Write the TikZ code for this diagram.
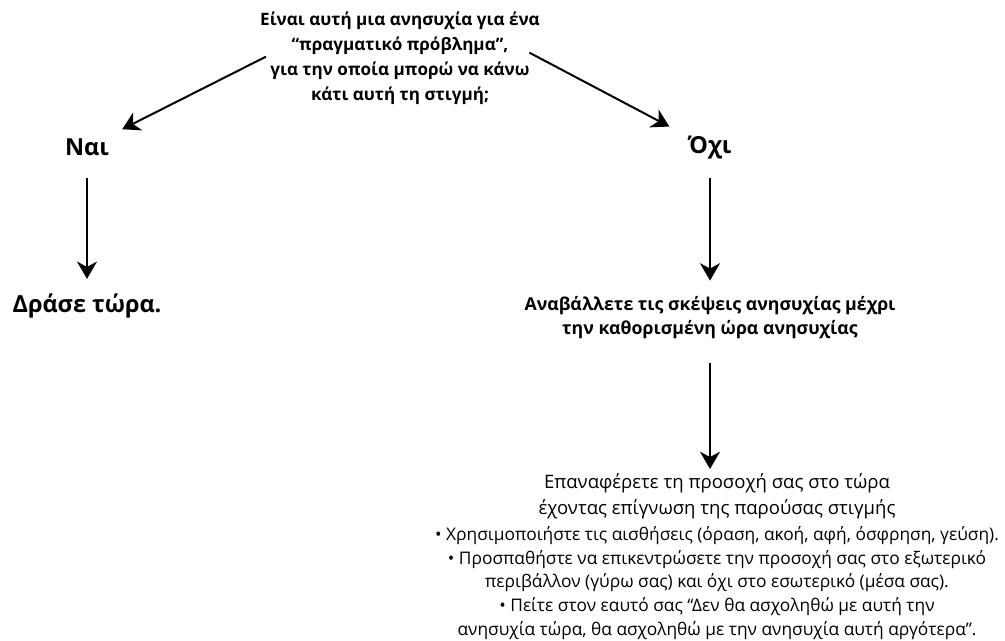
\documentclass[tikz,border=0pt]{standalone}
\usepackage{fontspec}
\setmainfont{Open Sans}
\usetikzlibrary{arrows.meta}
\tikzstyle{question} = [font=\bfseries\fontsize{12.8}{18.75}\selectfont, align=center, inner sep=0pt]
\tikzstyle{answer} = [font=\bfseries\fontsize{17.6}{21}\selectfont, inner sep=0pt]
\tikzstyle{advice} = [font=\bfseries\fontsize{13.3}{18}\selectfont, align=center, inner sep=0pt]
\tikzstyle{refocus} = [font=\fontsize{13.9}{19.5}\selectfont, align=center, inner sep=0pt]
\tikzstyle{tips} = [font=\fontsize{13}{17.8}\selectfont, align=center, inner sep=0pt]
\tikzstyle{flow} = [draw, line width=1.5pt, ->]

\begin{document}
\begin{tikzpicture}[x=0.75pt, y=-0.75pt, >={Stealth[length=13pt,width=15pt,inset=4pt]}]
    \useasboundingbox (0,0) rectangle (1005,641);
    % We start by placing the question and the two answers
    \node [question] (worry) at (400,58) {Είναι αυτή μια ανησυχία για ένα\\
        “πραγματικό πρόβλημα”,\\ για την οποία μπορώ να κάνω\\ κάτι αυτή τη στιγμή;};
    \node [answer] (yes) at (87,147) {Ναι};
    \node [answer] (no) at (710,148) {Όχι};
    \node [answer] (act) at (87,306) {Δράσε τώρα.};
    \node [advice] (postpone) at (710,318) {Αναβάλλετε τις σκέψεις ανησυχίας μέχρι\\
        την καθορισμένη ώρα ανησυχίας};
    \node [refocus] (refocus) at (717,496) {Επαναφέρετε τη προσοχή σας στο τώρα\\
        έχοντας επίγνωση της παρούσας στιγμής};
    \node [tips] (tips) at (717,583) {• Χρησιμοποιήστε τις αισθήσεις (όραση, ακοή, αφή, όσφρηση, γεύση).\\
        • Προσπαθήστε να επικεντρώσετε την προσοχή σας στο εξωτερικό\\
        περιβάλλον (γύρω σας) και όχι στο εσωτερικό (μέσα σας).\\
        • Πείτε στον εαυτό σας “Δεν θα ασχοληθώ με αυτή την\\
        ανησυχία τώρα, θα ασχοληθώ με την ανησυχία αυτή αργότερα”.};

    % Once the nodes are placed, the arrows follow
    \draw [flow, shorten >=15pt] ([xshift=4.5pt,yshift=1pt]worry.west) -- (yes);
    \draw [flow, shorten >=16pt] ([xshift=-8pt,yshift=4pt]worry.east) -- (no);
    \draw [flow, shorten <=17pt, shorten >=11pt] (yes) -- (act);
    \draw [flow, shorten <=14pt, shorten >=12pt] (no) -- (postpone);
    \draw [flow, shorten <=17.5pt, shorten >=3pt] (postpone) -- (postpone |- refocus.north);
\end{tikzpicture}
\end{document}
